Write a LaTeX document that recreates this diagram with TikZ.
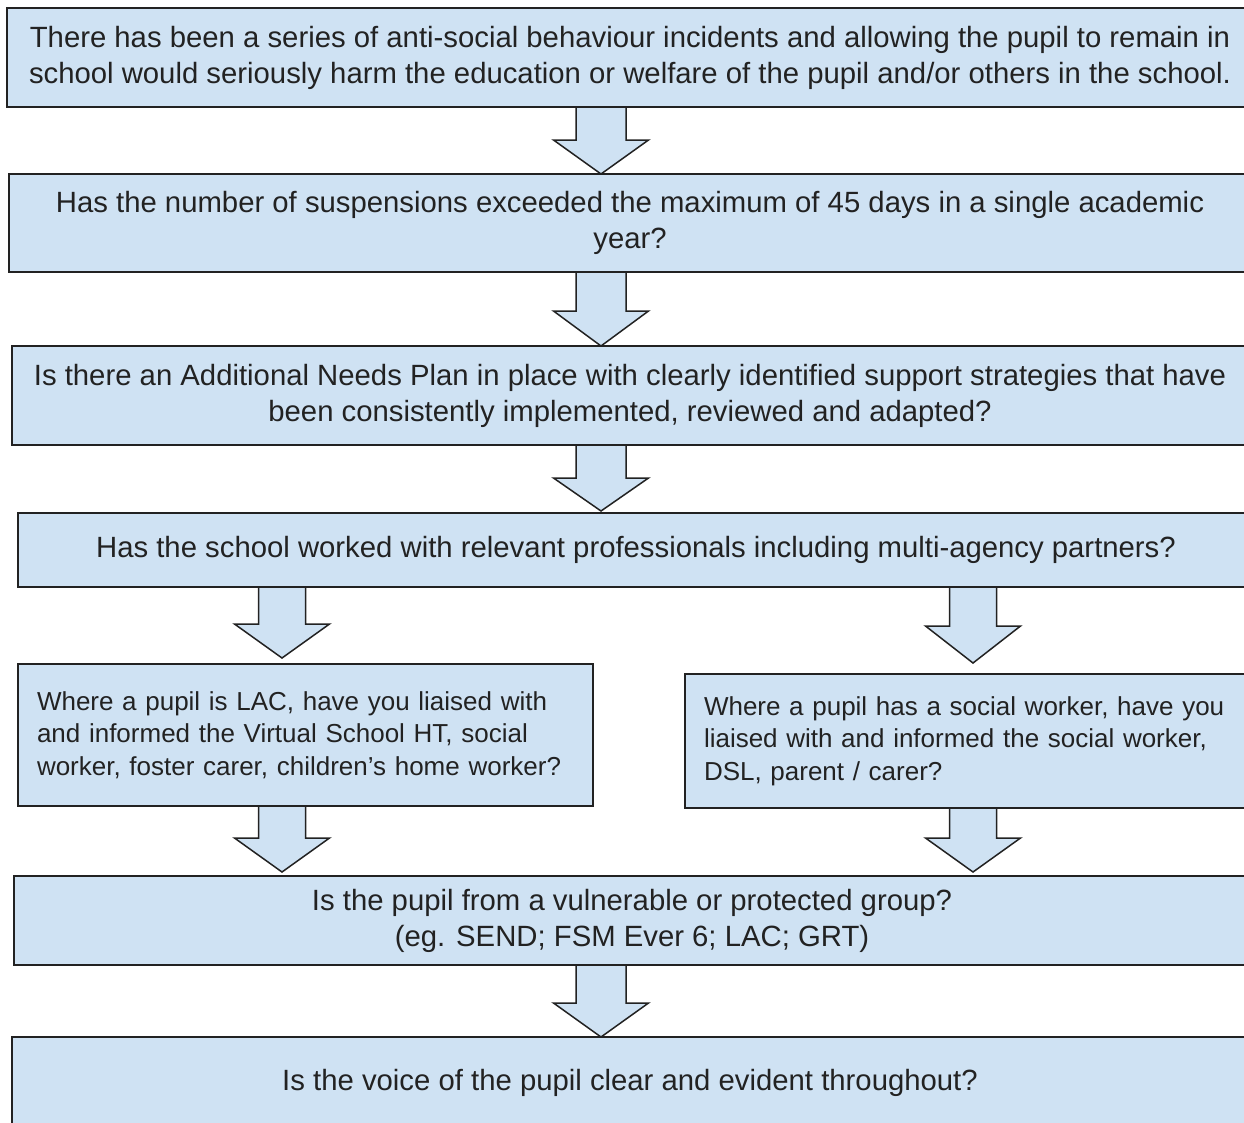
\documentclass[tikz,border=0pt]{standalone}
\usepackage{fontspec}
\setmainfont{Liberation Sans}
\definecolor{boxblue}{HTML}{CFE2F3}
\definecolor{boxline}{HTML}{222222}
\definecolor{txt}{HTML}{222222}
\newcommand{\blockarr}[6]{%
  \filldraw[arrowshape] (#1-#5,#2) -- (#1-#5,#3) -- (#1-#6,#3) -- (#1,#4) -- (#1+#6,#3) -- (#1+#5,#3) -- (#1+#5,#2);}
\begin{document}
\begin{tikzpicture}[x=1pt,y=-1pt,
  box/.style={draw=boxline, fill=boxblue, line width=1.5pt, inner sep=0pt,
    text=txt, font=\fontsize{29.3}{36}\selectfont, align=center},
  sidebox/.style={box, font=\fontsize{26}{32.5}\selectfont, align=left},
  arrowshape/.style={draw=boxline, fill=boxblue, line width=1.5pt, line join=miter}]
\useasboundingbox (0,0) rectangle (1244,1122);
\fill[white] (0,0) rectangle (1244,1122);
% block arrows
\blockarr{601}{107}{140}{174}{25}{47.5}
\blockarr{601}{272}{311}{346}{25}{47.5}
\blockarr{601}{445}{478}{511}{25}{47.5}
\blockarr{282}{587}{624}{658}{23.5}{47.5}
\blockarr{973}{588}{626}{663}{23.5}{47.5}
\blockarr{282}{806}{838}{872}{23.5}{47.5}
\blockarr{973}{808}{838}{872}{23.5}{47.5}
\blockarr{601}{965}{1003}{1037}{25}{47.5}
% boxes
\node[box, minimum width=1246, minimum height=99] (b1) at (630,57.5)
  {There has been a series of anti-social behaviour incidents and allowing the pupil to remain in\\
   school would seriously harm the education or welfare of the pupil and/or others in the school.};
\node[box, minimum width=1242, minimum height=98] (b2) at (630,223)
  {Has the number of suspensions exceeded the maximum of 45 days in a single academic\\ year?};
\node[box, minimum width=1236, minimum height=99] (b3) at (630,395.5)
  {Is there an Additional Needs Plan in place with clearly identified support strategies that have\\
   been consistently implemented, reviewed and adapted?};
\node[box, minimum width=1236, minimum height=74] (b4) at (636,550)
  {Has the school worked with relevant professionals including multi-agency partners?};
\node[sidebox, minimum width=575, minimum height=142, text width=537] (b5) at (305.5,735)
  {Where a pupil is LAC, have you liaised with\\
   and informed the Virtual School HT, social\\
   worker, foster carer, children's home worker?};
\node[sidebox, minimum width=568, minimum height=134, text width=530] (b6) at (969,741)
  {Where a pupil has a social worker, have you\\
   liaised with and informed the social worker,\\
   DSL, parent / carer?};
\node[box, minimum width=1236, minimum height=89] (b7) at (632,920.5)
  {Is the pupil from a vulnerable or protected group?\\ (eg. SEND; FSM Ever 6; LAC; GRT)};
\node[box, minimum width=1236, minimum height=92] (b8) at (630,1083)
  {Is the voice of the pupil clear and evident throughout?};
\end{tikzpicture}
\end{document}
